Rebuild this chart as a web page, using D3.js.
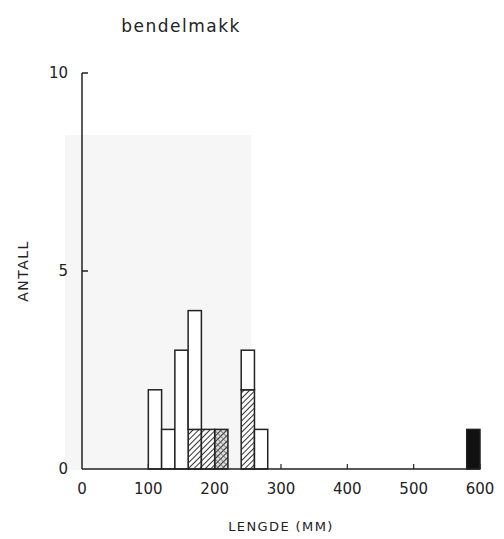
<!DOCTYPE html>
<html>
<head>
<meta charset="utf-8">
<script src="https://cdn.jsdelivr.net/npm/d3@7"></script>
<style>
  body { margin: 0; background: #fff; }
  text { font-family: "DejaVu Sans", "Liberation Sans", sans-serif; fill: #222; }
</style>
</head>
<body>
<div id="chart"></div>
<script>
// length bins (mm, start of each 20 mm bin) and counts per group
const binStart = [100, 120, 140, 160, 180, 200, 240, 260, 580];
const openCount = [2, 1, 3, 3, 0, 0, 1, 1, 0];
const hatchCount = [0, 0, 0, 1, 1, 0, 2, 0, 0];
const crossCount = [0, 0, 0, 0, 0, 1, 0, 0, 0];
const solidCount = [0, 0, 0, 0, 0, 0, 0, 0, 1];
const binWidth = 20;

const xTicks = [0, 100, 200, 300, 400, 500, 600];
const yTicks = [0, 5, 10];

const width = 504, height = 539;

const svg = d3.select("#chart").append("svg")
    .attr("width", width)
    .attr("height", height);

const x = d3.scaleLinear().domain([0, 600]).range([82, 480]);
const y = d3.scaleLinear().domain([0, 10]).range([469, 73]);

// patterns for the shaded groups
const defs = svg.append("defs");
const hatch = defs.append("pattern")
    .attr("id", "hatch")
    .attr("patternUnits", "userSpaceOnUse")
    .attr("width", 4).attr("height", 4)
    .attr("patternTransform", "rotate(45)");
hatch.append("rect").attr("width", 4).attr("height", 4).attr("fill", "#fff");
hatch.append("line").attr("x1", 0).attr("y1", 0).attr("x2", 0).attr("y2", 4)
    .attr("stroke", "#333").attr("stroke-width", 2);

const cross = defs.append("pattern")
    .attr("id", "cross")
    .attr("patternUnits", "userSpaceOnUse")
    .attr("width", 4).attr("height", 4)
    .attr("patternTransform", "rotate(45)");
cross.append("rect").attr("width", 4).attr("height", 4).attr("fill", "#ddd");
cross.append("line").attr("x1", 0).attr("y1", 0).attr("x2", 0).attr("y2", 4)
    .attr("stroke", "#333").attr("stroke-width", 2);
cross.append("line").attr("x1", 0).attr("y1", 0).attr("x2", 4).attr("y2", 0)
    .attr("stroke", "#555").attr("stroke-width", 1.2);

// faint grey scan panel behind the plot
svg.append("rect")
    .attr("x", 65).attr("y", 135)
    .attr("width", 186).attr("height", 335)
    .attr("fill", "#f6f6f6");

// stacked bars
const rows = binStart.map((b, i) => ({
    start: b,
    solid: solidCount[i],
    cross: crossCount[i],
    hatch: hatchCount[i],
    open: openCount[i]
}));
const keys = ["solid", "cross", "hatch", "open"];
const fills = { solid: "#111", cross: "url(#cross)", hatch: "url(#hatch)", open: "#fff" };
const stacked = d3.stack().keys(keys)(rows);

const g = svg.append("g");
stacked.forEach(layer => {
    g.selectAll(null)
        .data(layer.filter(d => d[1] > d[0]))
        .enter()
        .append("rect")
        .attr("x", d => x(d.data.start))
        .attr("width", d => x(d.data.start + binWidth) - x(d.data.start))
        .attr("y", d => y(d[1]))
        .attr("height", d => y(d[0]) - y(d[1]))
        .attr("fill", fills[layer.key])
        .attr("stroke", "#222")
        .attr("stroke-width", 1.5);
});

// y axis
svg.append("line")
    .attr("x1", x(0)).attr("x2", x(0))
    .attr("y1", y(0)).attr("y2", y(10))
    .attr("stroke", "#222").attr("stroke-width", 1.5);
svg.selectAll(".ytick")
    .data(yTicks.filter(d => d > 0))
    .enter().append("line")
    .attr("x1", x(0)).attr("x2", x(0) + 6)
    .attr("y1", d => y(d)).attr("y2", d => y(d))
    .attr("stroke", "#222").attr("stroke-width", 1.5);
svg.selectAll(".ylab")
    .data(yTicks)
    .enter().append("text")
    .attr("x", 68)
    .attr("y", d => y(d) + 5)
    .attr("text-anchor", "end")
    .style("font-size", "15px")
    .text(d => d);

// x axis
svg.append("line")
    .attr("x1", x(0)).attr("x2", x(600))
    .attr("y1", y(0)).attr("y2", y(0))
    .attr("stroke", "#222").attr("stroke-width", 1.5);
svg.selectAll(".xtick")
    .data(xTicks.filter(d => d > 0))
    .enter().append("line")
    .attr("x1", d => x(d)).attr("x2", d => x(d))
    .attr("y1", y(0)).attr("y2", y(0) - 5)
    .attr("stroke", "#222").attr("stroke-width", 1.2);
svg.selectAll(".xlab")
    .data(xTicks)
    .enter().append("text")
    .attr("x", d => x(d))
    .attr("y", 494)
    .attr("text-anchor", "middle")
    .style("font-size", "15px")
    .text(d => d);

// titles
svg.append("text")
    .attr("x", 181).attr("y", 32)
    .attr("text-anchor", "middle")
    .style("font-size", "17px")
    .style("letter-spacing", "1.5px")
    .text("bendelmakk");

svg.append("text")
    .attr("x", 281).attr("y", 531)
    .attr("text-anchor", "middle")
    .style("font-size", "13px")
    .style("letter-spacing", "1.4px")
    .text("LENGDE (MM)");

svg.append("text")
    .attr("transform", "translate(28,271) rotate(-90)")
    .attr("text-anchor", "middle")
    .style("font-size", "14px")
    .style("letter-spacing", "1.5px")
    .text("ANTALL");
</script>
</body>
</html>
